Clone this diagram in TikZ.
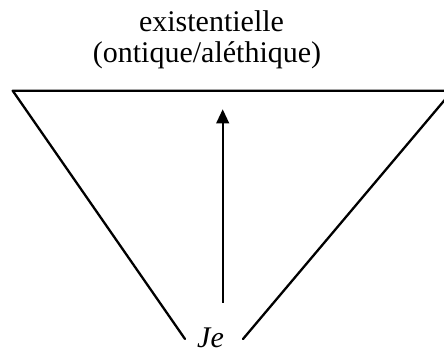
\documentclass[tikz,border=0pt]{standalone}
\usepackage{fontspec}
\setmainfont{Liberation Serif}
\usetikzlibrary{arrows.meta}

\begin{document}
\begin{tikzpicture}[x=1pt,y=-1pt,>={Triangle[length=14pt,width=12.7pt]},
 lbl/.style={font=\fontsize{30}{31}\selectfont,inner sep=0pt,anchor=base},
 side/.style={line width=2.3pt,line cap=round,line join=round}]
\useasboundingbox (0,0) rectangle (444,353);
\clip (0,0) rectangle (444,353);
% labels
\node[lbl] (exist) at (211.5,32) {existentielle};
\node[lbl] (ontic) at (207,63) {(ontique/aléthique)};
\node[lbl] (je) at (210.5,347) {\textit{Je}};
% triangle
\coordinate (tl) at (12.7,90.7);
\coordinate (tr) at (452.5,90.7);
\coordinate (bl) at (185,339);
\coordinate (br) at (243,339);
\draw[side] (bl)--(tl)--(tr)--(br);
% arrow
\coordinate (up0) at (222.7,302.7);
\coordinate (up1) at (222.7,109.3);
\draw[->,line width=1.7pt] (up0)--(up1);
\end{tikzpicture}
\end{document}
